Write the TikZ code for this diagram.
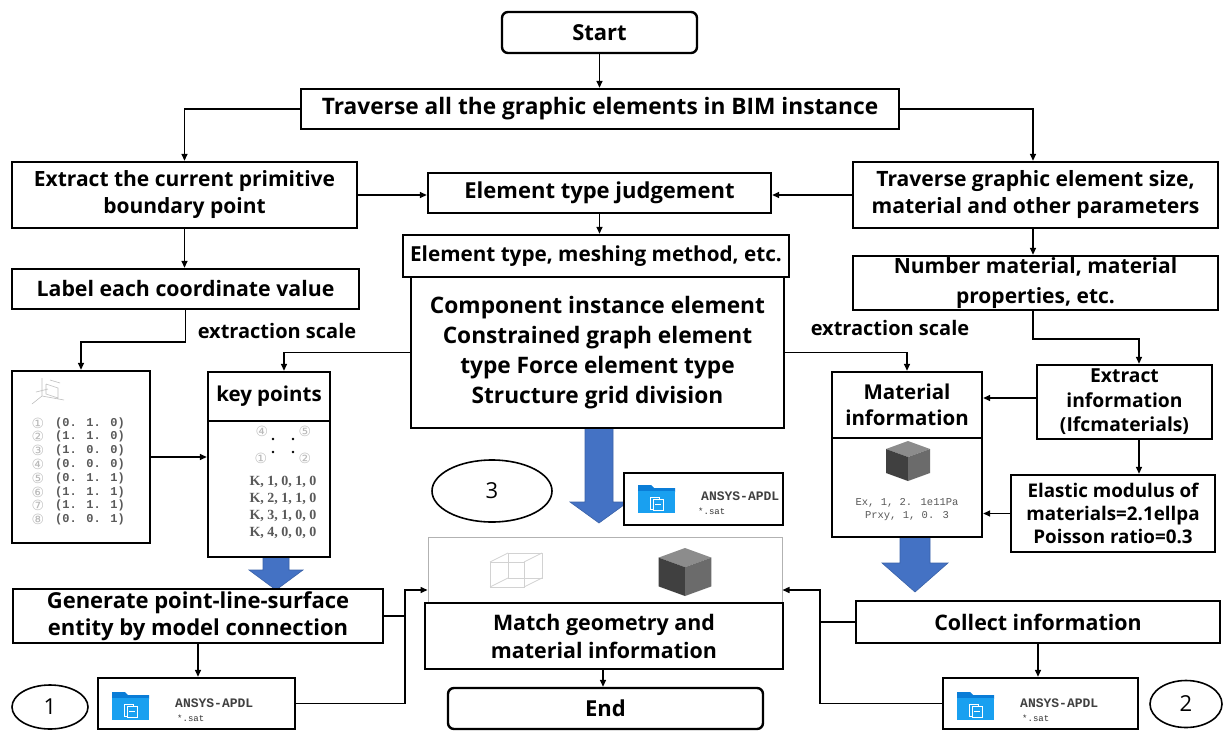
\documentclass[tikz,border=0pt]{standalone}
\usepackage{fontspec}
\setmainfont{Open Sans}
\newfontfamily\monof{Liberation Mono}
\newfontfamily\seriff{Liberation Serif}
\newfontfamily\symf{DejaVu Sans}
\usetikzlibrary{arrows.meta,calc,shapes.geometric}
\definecolor{blueA}{HTML}{4472C4}
\definecolor{blueB}{HTML}{3A62A8}
\definecolor{folderblue}{RGB}{25,160,240}
\definecolor{foldertop}{RGB}{10,125,215}
\definecolor{txtgray}{gray}{0.35}
\definecolor{cubetop}{gray}{0.55}
\definecolor{cubeleft}{gray}{0.25}
\definecolor{cuberight}{gray}{0.42}
\newcommand\fmain{\bfseries\fontsize{22}{27}\selectfont}
\newcommand\fsz[2]{\bfseries\fontsize{#1}{#2}\selectfont}
\tikzset{
  box/.style={draw=black, line width=2.4pt, fill=white, inner sep=0pt, align=center, font=\fmain},
  roundbox/.style={box, rounded corners=6pt},
  arr/.style={draw=black, line width=1.5pt, -{Triangle[length=7pt,width=6pt]}},
  plain/.style={draw=black, line width=1.5pt},
  numell/.style={draw=black, line width=1.6pt, ellipse, inner sep=0pt, font=\fontsize{22}{26}\selectfont},
  bluearrow/.style={fill=blueA, draw=blueB, line width=0.6pt},
  coordtxt/.style={font=\monof\bfseries\fontsize{12}{12}\selectfont, text=txtgray, inner sep=0pt, anchor=west},
  circnum/.style={font=\symf\fontsize{14}{14}\selectfont, text=gray!55, inner sep=0pt},
  ktxt/.style={font=\seriff\bfseries\fontsize{14}{14}\selectfont, text=txtgray, inner sep=0pt},
  mattxt/.style={font=\monof\fontsize{10.5}{10.5}\selectfont, text=txtgray, inner sep=0pt},
  ansys/.style={font=\monof\bfseries\fontsize{13}{13}\selectfont, text=black!75, inner sep=0pt, anchor=west},
  sat/.style={font=\monof\fontsize{9}{9}\selectfont, text=black!80, inner sep=0pt, anchor=west},
  folder/.pic={
    \fill[foldertop] (0,0) -- (13,0) -- (16,3) -- (37,3) -- (37,7) -- (0,7) -- cycle;
    \fill[folderblue] (0,6) rectangle (37,28);
    \draw[white, line width=0.8pt] (12,12) rectangle (21,24);
    \fill[folderblue] (15,14) rectangle (25,25);
    \draw[white, line width=0.8pt] (15,14) rectangle (25,25);
    \draw[white, line width=0.8pt] (17,19) -- (23,19);
  },
  darkcube/.pic={
    \fill[cubetop] (0,-20) -- (22,-12) -- (0,-4) -- (-22,-12) -- cycle;
    \fill[cubeleft] (-22,-12) -- (0,-4) -- (0,20) -- (-22,12) -- cycle;
    \fill[cuberight] (0,-4) -- (22,-12) -- (22,12) -- (0,20) -- cycle;
  },
  wirecube/.pic={
    \draw[gray!35, line width=0.8pt] (-26,-8) rectangle (8,17);
    \draw[gray!35, line width=0.8pt] (-8,-17) rectangle (26,8);
    \draw[gray!35, line width=0.8pt] (-26,-8) -- (-8,-17) (8,-8) -- (26,-17) (8,17) -- (26,8) (-26,17) -- (-8,8);
  }
}
\newcommand\blockarrow[6]{% cx, ytop, yhead, ytip, halfshaft, halfhead
  \filldraw[bluearrow] ({#1-#5},#2) -- ({#1+#5},#2) -- ({#1+#5},#3) -- ({#1+#6},#3) -- (#1,#4) -- ({#1-#6},#3) -- ({#1-#5},#3) -- cycle;}

\begin{document}
\begin{tikzpicture}[x=1pt,y=-1pt]
\useasboundingbox[fill=white] (0,0) rectangle (1223,731);

% blue block arrows (behind boxes)
\blockarrow{599}{428}{502}{523}{14}{29}
\blockarrow{276}{557}{570}{590}{13}{27}
\blockarrow{915}{537}{563}{592}{15}{33}

% top
\node[roundbox, minimum width=195, minimum height=41] (start) at (599.5,32.5) {Start};
\node[box, minimum width=598, minimum height=40, font=\fsz{22.7}{27}] (trav) at (600,109) {Traverse all the graphic elements in BIM instance};
\node[box, minimum width=345, minimum height=66, font=\fsz{21}{27}] (extract) at (184.5,195) {Extract the current primitive\\boundary point};
\node[box, minimum width=343, minimum height=40] (judg) at (599.5,193) {Element type judgement};
\node[box, minimum width=365, minimum height=66, font=\fsz{21.1}{27}] (trav2) at (1035.5,195) {Traverse graphic element size,\\material and other parameters};
\node[box, minimum width=386, minimum height=42, font=\fsz{20.7}{24}] (mesh) at (596,256) {Element type, meshing method, etc.};
\node[box, minimum width=373, minimum height=151, font=\fsz{22.7}{30}] (big) at (597.5,352.5) {Component instance element\\Constrained graph element\\type Force element type\\Structure grid division};
\node[box, minimum width=347, minimum height=40, font=\fsz{21.3}{26}] (label) at (185.5,289) {Label each coordinate value};
\node[box, minimum width=365, minimum height=54, font=\fsz{21}{30}] (number) at (1035.5,283) {Number material, material\\properties, etc.};

\node[font=\fsz{20}{22}, inner sep=0pt] (xs1) at (277,331) {extraction scale};
\node[font=\fsz{20}{22}, inner sep=0pt] (xs2) at (890,328) {extraction scale};

% coordinate list box
\node[box, minimum width=138, minimum height=172] (list) at (81,457) {};
\draw[gray!50, line width=0.6pt] (42,396) -- (42,378) (42,396) -- (64,400) (42,396) -- (32,404)
  (46,384) -- (58,388) -- (58,398) (46,384) -- (46,394) -- (58,398) (50,380) -- (60,383) (36,392) -- (48,389);
\foreach \i/\c/\t in {1/①/(0. 1. 0), 2/②/(1. 1. 0), 3/③/(1. 0. 0), 4/④/(0. 0. 0), 5/⑤/(0. 1. 1), 6/⑥/(1. 1. 1), 7/⑦/(1. 1. 1), 8/⑧/(0. 0. 1)} {
  \node[circnum] (lc\i) at (38,{423+13.8*(\i-1)}) {\c};
  \node[coordtxt] (lt\i) at (55,{423+13.8*(\i-1)}) {\t};
}

% key points
\node[box, minimum width=122, minimum height=49, font=\fsz{20.5}{24}] (keyh) at (269,396.5) {key points};
\node[box, minimum width=122, minimum height=136] (keyb) at (269,489) {};
\node[circnum] (kc4) at (262,431) {④};
\node[circnum] (kc5) at (305,431) {⑤};
\node[circnum] (kc1) at (261,458) {①};
\node[circnum] (kc2) at (305,458) {②};
\fill (273,439) circle (1.4) (293,439) circle (1.4) (273,452) circle (1.4) (293,452) circle (1.4);
\node[ktxt] (k1) at (283,482) {K, 1, 0, 1, 0};
\node[ktxt] (k2) at (283,499) {K, 2, 1, 1, 0};
\node[ktxt] (k3) at (283,516) {K, 3, 1, 0, 0};
\node[ktxt] (k4) at (283,533) {K, 4, 0, 0, 0};

% material side
\node[box, minimum width=150, minimum height=66, font=\fsz{20.5}{26}] (math) at (907,405) {Material\\information};
\node[box, minimum width=150, minimum height=99] (matb) at (907,487.5) {};
\pic at (908,461) {darkcube};
\node[mattxt] (m1) at (907,503) {Ex, 1, 2. 1e11Pa};
\node[mattxt] (m2) at (907,516) {Prxy, 1, 0. 3};
\node[box, minimum width=175, minimum height=74, font=\fsz{19.3}{24.5}] (exinfo) at (1124.5,402) {Extract\\information\\(Ifcmaterials)};
\node[box, minimum width=204, minimum height=77, font=\fsz{18.8}{23}] (elastic) at (1113,513.5) {Elastic modulus of\\materials=2.1ellpa\\Poisson ratio=0.3};

% ellipse 3 and ansys 3
\node[numell, minimum width=120, minimum height=62] (e3) at (492,491) {3};
\node[box, minimum width=159, minimum height=52] (ans3) at (703.5,499) {};
\pic at (638,485) {folder};
\node[ansys] (a3t) at (701,496) {ANSYS-APDL};
\node[sat] (a3s) at (698,511) {*.sat};

% match
\node[draw=gray!60, line width=1pt, fill=white, minimum width=354, minimum height=66, inner sep=0pt] (matchtop) at (605,570) {};
\pic at (516,570) {wirecube};
\pic[scale=1.2] at (685,572) {darkcube};
\node[box, minimum width=358, minimum height=66, font=\fsz{21.4}{28}] (match) at (604,636) {Match geometry and\\material information};
\node[roundbox, minimum width=315, minimum height=41] (end) at (605.5,708.5) {End};

% left bottom
\node[box, minimum width=370, minimum height=54] (gen) at (198,616) {Generate point-line-surface\\entity by model connection};
\node[box, minimum width=197, minimum height=51] (ans1) at (196.5,703.5) {};
\pic at (112,692) {folder};
\node[ansys] (a1t) at (175,703) {ANSYS-APDL};
\node[sat] (a1s) at (177,718) {*.sat};
\node[numell, minimum width=76, minimum height=44] (e1) at (50,707) {1};

% right bottom
\node[box, minimum width=364, minimum height=42, font=\fsz{21.4}{26}] (collect) at (1038,622) {Collect information};
\node[box, minimum width=195, minimum height=51] (ans2) at (1040.5,703.5) {};
\pic at (957,692) {folder};
\node[ansys] (a2t) at (1020,703) {ANSYS-APDL};
\node[sat] (a2s) at (1022,718) {*.sat};
\node[numell, minimum width=72, minimum height=47] (e2) at (1186,704) {2};

% connectors
\draw[arr] (start.south) -- (start.south |- trav.north);
\draw[arr] (trav.west) -| (extract.north);
\draw[arr] (trav.east) -| ([xshift=-2.5pt]trav2.north);
\draw[arr] (extract.east) -- (extract.east -| judg.west);
\draw[arr] (trav2.west) -- (trav2.west -| judg.east);
\draw[arr] (judg.south) -- (judg.south |- mesh.north);
\draw[arr] (extract.south) -- (extract.south |- label.north);
\draw[arr] ([xshift=-2.5pt]trav2.south) -- ([xshift=-2.5pt]trav2.south |- number.north);
\draw[arr] (label.south) -- ++(0,32) -| (list.north);
\draw[arr] (big.west) -| ([xshift=15pt]keyh.north);
\draw[arr] (big.east) -| (math.north);
\draw[arr] ([xshift=-2.5pt]number.south) -- ++(0,28) -| ([xshift=14.5pt]exinfo.north);
\draw[arr] ([yshift=4pt]exinfo.west) -- ([yshift=4pt]exinfo.west -| math.east);
\draw[arr] ([xshift=14.5pt]exinfo.south) -- ([xshift=14.5pt]exinfo.south |- elastic.north);
\draw[arr] (elastic.west) -- (elastic.west -| matb.east);
\draw[arr] (list.east) -- (list.east -| keyb.west);
\draw[arr] (gen.south) -- (gen.south |- ans1.north);
\coordinate (jl) at (405,590);
\coordinate (jr) at (820,590);
\draw[arr] (ans1.east) -| (jl) -- (jl -| matchtop.west);
\draw[plain] (gen.east) -- (gen.east -| jl);
\draw[arr] (ans2.west) -| (jr) -- (jr -| matchtop.east);
\draw[plain] (collect.west) -- (collect.west -| jr);
\draw[arr] (collect.south) -- (collect.south |- ans2.north);
\draw[arr] ([xshift=-1pt]match.south) -- ([xshift=-1pt]match.south |- end.north);
\end{tikzpicture}
\end{document}
